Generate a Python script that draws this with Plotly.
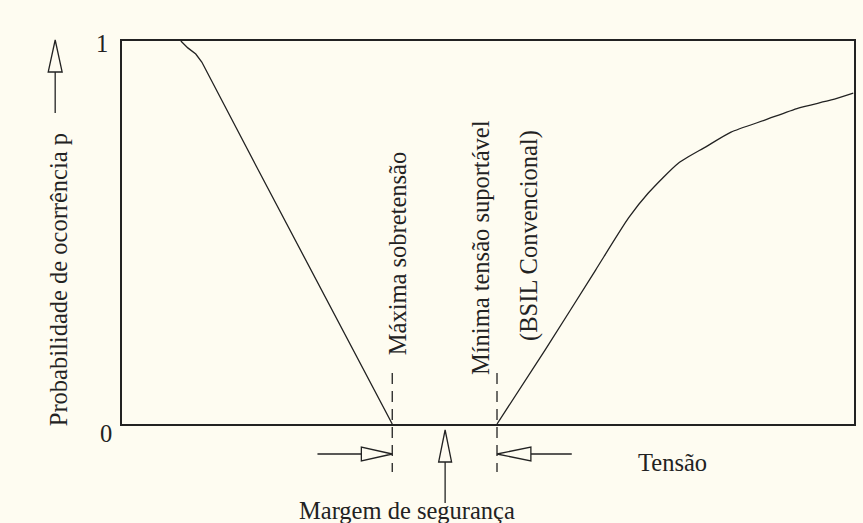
import plotly.graph_objects as go

# ---- data (axis units: x = tensão 0..1, y = probabilidade 0..1) ----
surge_x = [0.0804, 0.0899, 0.1008, 0.1090, 0.1840, 0.3692]
surge_y = [1.000, 0.982, 0.966, 0.945, 0.671, 0.000]

withstand_x = [0.5123, 0.5790, 0.6470, 0.6920, 0.7190, 0.7600, 0.7970, 0.8320,
               0.8790, 0.9240, 0.9690, 0.9990]
withstand_y = [0.000, 0.196, 0.402, 0.538, 0.603, 0.681, 0.723, 0.762,
               0.794, 0.825, 0.846, 0.864]

y_tick_labels = ["0", "1"]

# ---- layout geometry (pixels of the 863x523 page) ----
W, H = 863, 523
L, R, T, B = 122, 856, 41, 424
PW, PH = R - L, B - T


def px(x):
    return (x - L) / PW


def py(y):
    return (B - y) / PH


BG = "#FEFCF1"
INK = "#222222"
FONT = "Liberation Serif, Times New Roman, serif"
FS = 24.5

fig = go.Figure()
fig.add_trace(go.Scatter(x=surge_x, y=surge_y, mode="lines",
                         line=dict(color=INK, width=1.3), hoverinfo="skip",
                         showlegend=False))
fig.add_trace(go.Scatter(x=withstand_x, y=withstand_y, mode="lines",
                         line=dict(color=INK, width=1.3, shape="spline", smoothing=0.6),
                         hoverinfo="skip", showlegend=False))

shapes = []
# dashed markers at the two zero crossings
for xv in (surge_x[-1], withstand_x[0]):
    shapes.append(dict(type="line", xref="paper", yref="paper",
                       x0=xv, x1=xv, y0=py(373), y1=py(472),
                       line=dict(color=INK, width=1.3, dash="11px,7px")))


def hollow_head(tip, base, half, vertical=False):
    if vertical:
        (tx, ty), by = tip, base
        path = (f"M {px(tx)} {py(ty)} L {px(tx + half)} {py(by)} "
                f"L {px(tx - half)} {py(by)} Z")
    else:
        (tx, ty), bx = tip, base
        path = (f"M {px(tx)} {py(ty)} L {px(bx)} {py(ty - half)} "
                f"L {px(bx)} {py(ty + half)} Z")
    return dict(type="path", xref="paper", yref="paper", path=path,
                fillcolor=BG, line=dict(color=INK, width=1.3))


def seg(x0, y0, x1, y1):
    return dict(type="line", xref="paper", yref="paper",
                x0=px(x0), y0=py(y0), x1=px(x1), y1=py(y1),
                line=dict(color=INK, width=1.3))


x_left = L + surge_x[-1] * PW
x_right = L + withstand_x[0] * PW
ya = 454
# left arrow -> pointing right to surge limit
shapes.append(seg(318, ya, 362, ya))
shapes.append(hollow_head((x_left, ya), 362, 7))
# right arrow -> pointing left to withstand limit
shapes.append(seg(532, ya, 573, ya))
shapes.append(hollow_head((x_right, ya), 532, 7))
# margin arrow (upwards)
shapes.append(seg(446, 462, 446, 503))
shapes.append(hollow_head((446, 430), 462, 6.5, vertical=True))
# y axis arrow (upwards)
shapes.append(seg(55, 72, 55, 113))
shapes.append(hollow_head((55, 40), 72, 7, vertical=True))

ann = []


def text(s, x, y, angle=0, size=FS):
    ann.append(dict(text=s, xref="paper", yref="paper", x=px(x), y=py(y),
                    xanchor="center", yanchor="middle", showarrow=False,
                    textangle=angle, font=dict(family=FONT, size=size, color=INK)))


text(y_tick_labels[1], 102, 43)
text(y_tick_labels[0], 106, 433)
text("Probabilidade de ocorrência p", 58, 280, -90)
text("Máxima sobretensão", 398, 254, -90)
text("Mínima tensão suportável", 482, 248, -90)
text("(BSIL Convencional)", 530, 235, -90)
text("Tensão", 674, 462)
text("Margem de segurança", 408, 511)

fig.update_layout(
    width=W, height=H,
    margin=dict(l=L, r=W - R, t=T, b=H - B, pad=0),
    paper_bgcolor=BG, plot_bgcolor=BG,
    shapes=shapes, annotations=ann,
    xaxis=dict(range=[0, 1], showgrid=False, zeroline=False, showticklabels=False,
               ticks="", showline=True, mirror=True, linecolor=INK, linewidth=1.5),
    yaxis=dict(range=[0, 1], showgrid=False, zeroline=False, showticklabels=False,
               ticks="", showline=True, mirror=True, linecolor=INK, linewidth=1.5),
)

fig.write_html("out.html", config=dict(displayModeBar=False),
               post_script="document.body.style.margin='0';"
                           "document.body.style.background='" + BG + "';")
